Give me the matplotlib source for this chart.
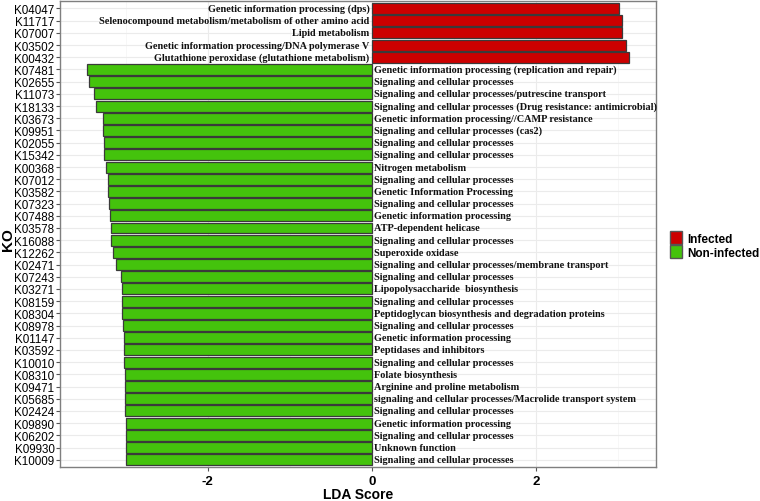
import matplotlib
matplotlib.use('Agg')
from matplotlib import pyplot as plt
from matplotlib.patches import Patch
from matplotlib import font_manager

# KO ids, top to bottom
kos = ['K04047', 'K11717', 'K07007', 'K03502', 'K00432',
       'K07481', 'K02655', 'K11073', 'K18133', 'K03673', 'K09951', 'K02055',
       'K15342', 'K00368', 'K07012', 'K03582', 'K07323', 'K07488', 'K03578',
       'K16088', 'K12262', 'K02471', 'K07243', 'K03271', 'K08159', 'K08304',
       'K08978', 'K01147', 'K03592', 'K10010', 'K08310', 'K09471', 'K05685',
       'K02424', 'K09890', 'K06202', 'K09930', 'K10009']

lda = [3.01, 3.05, 3.05, 3.10, 3.13,
       -3.47, -3.45, -3.39, -3.36, -3.28, -3.27, -3.26, -3.26, -3.24, -3.22,
       -3.21, -3.20, -3.19, -3.18, -3.18, -3.16, -3.12, -3.06, -3.04, -3.04,
       -3.04, -3.03, -3.02, -3.02, -3.02, -3.01, -3.01, -3.01, -3.01, -3.00,
       -2.99, -2.99, -2.99]

groups = ['Infected'] * 5 + ['Non-infected'] * 33

functions = [
    'Genetic information processing (dps)',
    'Selenocompound metabolism/metabolism of other amino acid',
    'Lipid metabolism',
    'Genetic information processing/DNA polymerase V',
    'Glutathione peroxidase (glutathione metabolism)',
    'Genetic information processing (replication and repair)',
    'Signaling and cellular processes',
    'Signaling and cellular processes/putrescine transport',
    'Signaling and cellular processes (Drug resistance: antimicrobial)',
    'Genetic information processing//CAMP resistance',
    'Signaling and cellular processes (cas2)',
    'Signaling and cellular processes',
    'Signaling and cellular processes',
    'Nitrogen metabolism',
    'Signaling and cellular processes',
    'Genetic Information Processing',
    'Signaling and cellular processes',
    'Genetic information processing',
    'ATP-dependent helicase',
    'Signaling and cellular processes',
    'Superoxide oxidase',
    'Signaling and cellular processes/membrane transport',
    'Signaling and cellular processes',
    'Lipopolysaccharide  biosynthesis',
    'Signaling and cellular processes',
    'Peptidoglycan biosynthesis and degradation proteins',
    'Signaling and cellular processes',
    'Genetic information processing',
    'Peptidases and inhibitors',
    'Signaling and cellular processes',
    'Folate biosynthesis',
    'Arginine and proline metabolism',
    'signaling and cellular processes/Macrolide transport system',
    'Signaling and cellular processes',
    'Genetic information processing',
    'Signaling and cellular processes',
    'Unknown function',
    'Signaling and cellular processes',
]

colors = {'Infected': '#CC0000', 'Non-infected': '#44C30C'}

# narrow sans if available (the original labels look condensed)
names = {f.name for f in font_manager.fontManager.ttflist}
narrow = 'Liberation Sans Narrow' in names
sans = 'Liberation Sans Narrow' if narrow else 'Liberation Sans'

fig = plt.figure(figsize=(7.6, 5.02), dpi=100)
ax = fig.add_axes([0.0789, 0.0677, 0.7842, 0.928])

ypos = list(range(len(kos)))
ax.barh(ypos, lda, height=0.9, color=[colors[g] for g in groups],
        edgecolor='#3a3a3a', linewidth=0.9, zorder=2)

# function labels next to zero line
for y, v, txt in zip(ypos, lda, functions):
    if v > 0:
        ax.text(-0.03, y, txt, ha='right', va='center', fontsize=7.4,
                family='Liberation Serif', fontweight='bold', color='#111111', zorder=3)
    else:
        ax.text(0.03, y, txt, ha='left', va='center', fontsize=7.4,
                family='Liberation Serif', fontweight='bold', color='#111111', zorder=3)

ax.set_xlim(-3.80, 3.46)
ax.set_ylim(len(kos) - 0.4, -0.6)
ax.set_yticks(ypos)
ax.set_yticklabels(kos)
ax.set_xticks([-2, 0, 2])
ax.set_xticklabels(['-2', '0', '2'])
ax.set_xticks([-3, -1, 1, 3], minor=True)

ax.grid(True, which='major', color='#ebebeb', linewidth=0.8, zorder=0)
ax.grid(True, which='minor', axis='x', color='#f4f4f4', linewidth=0.5, zorder=0)
ax.set_axisbelow(True)

for s in ax.spines.values():
    s.set_color('#7f7f7f')
    s.set_linewidth(1.0)

ax.tick_params(axis='y', which='major', labelsize=10.6 if narrow else 8.4, length=3,
               color='#555555', pad=1, labelcolor='black')
ax.tick_params(axis='x', which='major', labelsize=9.5, length=3, color='#555555', pad=3)
ax.tick_params(axis='x', which='minor', length=0)
for lab in ax.get_yticklabels():
    lab.set_family(sans)
for lab in ax.get_xticklabels():
    lab.set_family(sans)
    lab.set_fontweight('bold')

# axis titles placed by hand so they stay inside the canvas
fig.text(358 / 760, 1 - 495 / 502, 'LDA Score', ha='center', va='center',
         fontsize=10, fontweight='bold', family=sans)
fig.text(8 / 760, 1 - 240 / 502, 'KO', ha='center', va='center', rotation=90,
         fontsize=11, fontweight='bold', family=sans)

handles = [Patch(facecolor=colors['Infected'], edgecolor='#555555', label='Infected'),
           Patch(facecolor=colors['Non-infected'], edgecolor='#555555', label='Non-infected')]
fig.legend(handles=handles, loc='center left', bbox_to_anchor=(0.876, 0.51),
           frameon=False,
           prop={'family': sans, 'size': 10.5 if narrow else 8.5, 'weight': 'bold'},
           handlelength=1.0, handleheight=1.3, handletextpad=0.4, labelspacing=0.05,
           borderaxespad=0)

plt.savefig('out.png', dpi=100)
